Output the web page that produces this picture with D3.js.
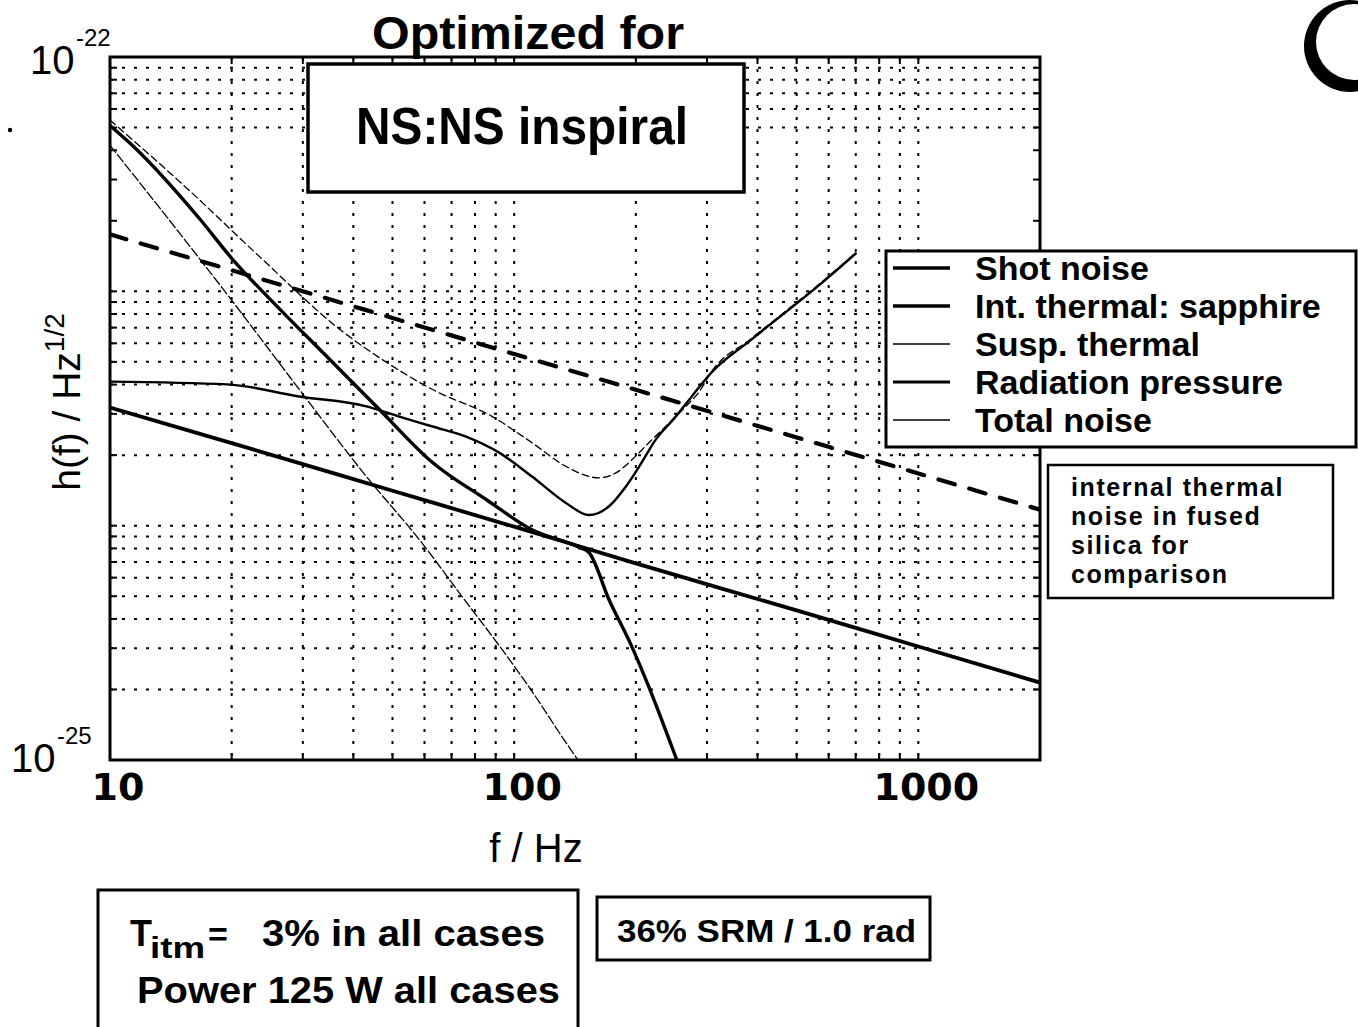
<!DOCTYPE html>
<html lang="en">
<head>
<meta charset="UTF-8">
<script src="https://d3js.org/d3.v7.min.js"></script>
<title>Optimized for NS:NS inspiral</title>
<style>
  body { margin: 0; background: #fff; }
  text { font-family: "Liberation Sans", Arial, sans-serif; fill: #000; }
</style>
</head>
<body>
<script>
// frequency in Hz, strain noise h(f) in 1/sqrt(Hz)
var fShot = [10, 19.5, 29.4, 43.1, 52, 62.8, 76, 91.8, 110.7, 134.3, 153, 171.7, 189, 204, 224, 251, 275, 308, 387, 589, 700];
var shotNoise = [4.12e-24, 4.01e-24, 3.56e-24, 3.23e-24, 2.92e-24, 2.65e-24, 2.40e-24, 2.05e-24, 1.62e-24, 1.25e-24, 1.11e-24, 1.21e-24, 1.47e-24, 1.79e-24, 2.33e-24, 2.92e-24, 3.56e-24, 4.51e-24, 6.24e-24, 1.12e-23, 1.45e-23];

var fIntThermal = [10, 20, 50, 100, 200, 500, 1000, 2000];
var intThermalSapphire = [3.19e-24, 2.25e-24, 1.41e-24, 9.9e-25, 6.9e-25, 4.35e-25, 3.05e-25, 2.14e-25];
var intThermalSilica = [1.75e-23, 1.23e-23, 7.7e-24, 5.4e-24, 3.8e-24, 2.38e-24, 1.67e-24, 1.17e-24];

var fSusp = [10, 20.1, 27.8, 43.1, 59.1, 74.4, 93.5, 111, 131.6, 145];
var suspThermal = [4.2e-23, 9.06e-24, 4.33e-24, 1.62e-24, 8.45e-25, 4.97e-25, 2.95e-25, 1.95e-25, 1.25e-25, 9.8e-26];

var fRad = [10, 11.4, 16.7, 20.1, 26.3, 34.4, 46.4, 62.8, 85.4, 110.7, 144.6, 153, 171.7, 195.6, 215.4, 231.9, 251, 262];
var radPressure = [5.1e-23, 4.17e-23, 2.03e-23, 1.37e-23, 8.4e-24, 5.27e-24, 3.13e-24, 1.86e-24, 1.29e-24, 9.6e-25, 8.1e-25, 7.7e-25, 4.83e-25, 3.04e-25, 2.05e-25, 1.48e-25, 1.03e-25, 8.5e-26];

var fTotal = [10, 15.8, 23.4, 37, 48.3, 62.8, 88.3, 110.7, 134.3, 162, 178.6, 195.6, 215.4, 237, 266, 286, 308, 387, 589, 700];
var totalNoise = [5.38e-23, 2.67e-23, 1.41e-23, 6.89e-24, 4.98e-24, 3.81e-24, 2.92e-24, 2.26e-24, 1.79e-24, 1.60e-24, 1.68e-24, 1.91e-24, 2.26e-24, 2.65e-24, 3.23e-24, 3.70e-24, 4.55e-24, 6.3e-24, 1.13e-23, 1.46e-23];

var legendNames = ["Shot noise", "Int. thermal: sapphire", "Susp. thermal", "Radiation pressure", "Total noise"];
var xTickLabels = [10, 100, 1000];
var yTickLabels = [1e-22, 1e-25];
var noteLines = ["internal thermal", "noise in fused", "silica for", "comparison"];

var width = 1358, height = 1027;
var pLeft = 110, pRight = 1040, pTop = 57, pBottom = 760;

var svg = d3.select("body").append("svg")
  .attr("width", width)
  .attr("height", height);

var x = d3.scaleLog().domain([10, 2000]).range([pLeft, pRight]);
var y = d3.scaleLog().domain([1e-25, 1e-22]).range([pBottom, pTop]);

// grid (the scan has no lines at 2,3,4 x 1e-23)
var xGrid = [];
[10, 100, 1000].forEach(function (d) {
  for (var k = 1; k <= 9; k++) {
    var v = d * k;
    if (v > 10 && v < 2000) xGrid.push(v);
  }
});
var yGrid = [];
[1e-25, 1e-24, 1e-23].forEach(function (d) {
  for (var k = 1; k <= 9; k++) {
    if (d === 1e-23 && k >= 2 && k <= 4) continue;
    if (k > 1 || d > 1e-25) yGrid.push(d * k);
  }
});

var grid = svg.append("g")
  .attr("stroke", "#000")
  .attr("stroke-width", 2)
  .attr("stroke-dasharray", "3,9");
grid.selectAll("line.v").data(xGrid).enter().append("line")
  .attr("class", "v")
  .attr("x1", function (d) { return x(d); }).attr("x2", function (d) { return x(d); })
  .attr("y1", pTop).attr("y2", pBottom);
grid.selectAll("line.h").data(yGrid).enter().append("line")
  .attr("class", "h")
  .attr("x1", pLeft).attr("x2", pRight)
  .attr("y1", function (d) { return y(d); }).attr("y2", function (d) { return y(d); });

// ticks on all four sides, inward
var allYTicks = [];
[1e-25, 1e-24, 1e-23].forEach(function (d) {
  for (var k = 1; k <= 9; k++) allYTicks.push(d * k);
});
var ticks = svg.append("g").attr("stroke", "#000").attr("stroke-width", 2);
ticks.selectAll("line.yl").data(allYTicks).enter().append("line")
  .attr("x1", pLeft).attr("x2", pLeft + 7)
  .attr("y1", function (d) { return y(d); }).attr("y2", function (d) { return y(d); });
ticks.selectAll("line.yr").data(allYTicks).enter().append("line")
  .attr("x1", pRight).attr("x2", pRight - 7)
  .attr("y1", function (d) { return y(d); }).attr("y2", function (d) { return y(d); });
ticks.selectAll("line.xb").data(xGrid).enter().append("line")
  .attr("y1", pBottom).attr("y2", pBottom - 7)
  .attr("x1", function (d) { return x(d); }).attr("x2", function (d) { return x(d); });
ticks.selectAll("line.xt").data(xGrid).enter().append("line")
  .attr("y1", pTop).attr("y2", pTop + 7)
  .attr("x1", function (d) { return x(d); }).attr("x2", function (d) { return x(d); });

// curves
svg.append("clipPath").attr("id", "plotclip")
  .append("rect").attr("x", pLeft).attr("y", pTop)
  .attr("width", pRight - pLeft).attr("height", pBottom - pTop);

var line = d3.line()
  .x(function (d) { return x(d[0]); })
  .y(function (d) { return y(d[1]); })
  .curve(d3.curveMonotoneX);

function zip(fs, hs) { return fs.map(function (f, i) { return [f, hs[i]]; }); }

var series = [
  { pts: zip(fIntThermal, intThermalSilica), w: 4.2, dash: "17,15" },
  { pts: zip(fSusp, suspThermal), w: 1.3, dash: "9,3" },
  { pts: zip(fIntThermal, intThermalSapphire), w: 3.8, dash: null },
  { pts: zip(fRad, radPressure), w: 3.4, dash: null },
  { pts: zip(fShot, shotNoise), w: 2.4, dash: null },
  { pts: zip(fTotal, totalNoise), w: 1.3, dash: "7,4" }
];

var curves = svg.append("g").attr("clip-path", "url(#plotclip)");
curves.selectAll("path").data(series).enter().append("path")
  .attr("fill", "none")
  .attr("stroke", "#000")
  .attr("stroke-width", function (d) { return d.w; })
  .attr("stroke-dasharray", function (d) { return d.dash; })
  .attr("stroke-linecap", "round")
  .attr("d", function (d) { return line(d.pts); });

// frame
svg.append("rect")
  .attr("x", pLeft).attr("y", pTop)
  .attr("width", pRight - pLeft).attr("height", pBottom - pTop)
  .attr("fill", "none").attr("stroke", "#000").attr("stroke-width", 3);

// x tick labels
svg.selectAll("text.xtick").data(xTickLabels).enter().append("text")
  .attr("class", "xtick")
  .attr("x", function (d) { return x(d) + 8; })
  .attr("y", 800)
  .attr("text-anchor", "middle")
  .style("font-family", "'DejaVu Sans', sans-serif")
  .style("font-weight", "bold")
  .style("font-size", "38px")
  .text(function (d) { return d; });

// y tick labels
var yLab = svg.selectAll("g.ytick").data(yTickLabels).enter().append("g")
  .attr("class", "ytick")
  .attr("transform", function (d) { return "translate(" + (d === 1e-22 ? 30 : 11) + "," + (y(d) + (d === 1e-22 ? 17 : 12)) + ")"; });
yLab.append("text")
  .style("font-size", "40px")
  .text("10");
yLab.append("text")
  .attr("x", 46).attr("y", -28)
  .style("font-size", "24px")
  .text(function (d) { return String(Math.round(Math.log10(d))); });

// axis titles
svg.append("text")
  .attr("x", 536).attr("y", 862)
  .attr("text-anchor", "middle")
  .style("font-size", "40px")
  .text("f / Hz");

var yt = svg.append("text")
  .attr("transform", "translate(80,402) rotate(-90)")
  .attr("text-anchor", "middle")
  .style("font-size", "39px");
yt.append("tspan").text("h(f) / Hz");
yt.append("tspan").attr("dy", -16).style("font-size", "28px").text("1/2");

// title
svg.append("text")
  .attr("x", 528).attr("y", 49)
  .attr("text-anchor", "middle")
  .style("font-size", "46px").style("font-weight", "bold")
  .attr("textLength", 312).attr("lengthAdjust", "spacingAndGlyphs")
  .text("Optimized for");

svg.append("rect")
  .attr("x", 308).attr("y", 64).attr("width", 436).attr("height", 128)
  .attr("fill", "#fff").attr("stroke", "#000").attr("stroke-width", 3.5);
svg.append("text")
  .attr("x", 522).attr("y", 144)
  .attr("text-anchor", "middle")
  .style("font-size", "52px").style("font-weight", "bold")
  .attr("textLength", 332).attr("lengthAdjust", "spacingAndGlyphs")
  .text("NS:NS inspiral");

// legend
var legendStyle = [3.4, 3.4, 1.5, 3, 1.5];
svg.append("rect")
  .attr("x", 886).attr("y", 251).attr("width", 470).attr("height", 196)
  .attr("fill", "#fff").attr("stroke", "#000").attr("stroke-width", 3);
var leg = svg.selectAll("g.leg").data(legendNames).enter().append("g")
  .attr("class", "leg")
  .attr("transform", function (d, i) { return "translate(0," + (268 + i * 38) + ")"; });
leg.append("line")
  .attr("x1", 893).attr("x2", 950).attr("y1", 0).attr("y2", 0)
  .attr("stroke", "#000")
  .attr("stroke-width", function (d, i) { return legendStyle[i]; });
leg.append("text")
  .attr("x", 975).attr("y", 12)
  .style("font-size", "34px").style("font-weight", "bold")
  .text(function (d) { return d; });

// note box
svg.append("rect")
  .attr("x", 1048).attr("y", 465).attr("width", 285).attr("height", 133)
  .attr("fill", "#fff").attr("stroke", "#000").attr("stroke-width", 2.5);
svg.selectAll("text.note").data(noteLines).enter().append("text")
  .attr("class", "note")
  .attr("x", 1071).attr("y", function (d, i) { return 496 + i * 29; })
  .style("font-size", "25px").style("font-weight", "bold")
  .style("letter-spacing", "1.6px")
  .text(function (d) { return d; });

// bottom boxes
svg.append("rect")
  .attr("x", 98).attr("y", 890).attr("width", 480).attr("height", 150)
  .attr("fill", "none").attr("stroke", "#000").attr("stroke-width", 3);
svg.append("text")
  .attr("x", 130).attr("y", 946)
  .style("font-size", "36px").style("font-weight", "bold")
  .text("T");
svg.append("text")
  .attr("x", 150).attr("y", 958)
  .style("font-size", "30px").style("font-weight", "bold")
  .attr("textLength", 55).attr("lengthAdjust", "spacingAndGlyphs")
  .text("itm");
svg.append("text")
  .attr("x", 208).attr("y", 946)
  .style("font-size", "34px").style("font-weight", "bold")
  .text("=");
svg.append("text")
  .attr("x", 262).attr("y", 946)
  .style("font-size", "36px").style("font-weight", "bold")
  .attr("textLength", 283).attr("lengthAdjust", "spacingAndGlyphs")
  .text("3% in all cases");
svg.append("text")
  .attr("x", 137).attr("y", 1003)
  .style("font-size", "36px").style("font-weight", "bold")
  .attr("textLength", 423).attr("lengthAdjust", "spacingAndGlyphs")
  .text("Power 125 W all cases");

svg.append("rect")
  .attr("x", 597).attr("y", 897).attr("width", 333).attr("height", 63)
  .attr("fill", "none").attr("stroke", "#000").attr("stroke-width", 3);
svg.append("text")
  .attr("x", 617).attr("y", 942)
  .style("font-size", "31px").style("font-weight", "bold")
  .attr("textLength", 299).attr("lengthAdjust", "spacingAndGlyphs")
  .text("36% SRM / 1.0 rad");

// scanned logo fragment, top right, and a stray speck
svg.append("circle")
  .attr("cx", 1350).attr("cy", 46).attr("r", 46)
  .attr("fill", "#000");
svg.append("circle")
  .attr("cx", 1354).attr("cy", 42).attr("r", 38)
  .attr("fill", "#fff");
svg.append("circle")
  .attr("cx", 10).attr("cy", 130).attr("r", 2.2)
  .attr("fill", "#000");
</script>
</body>
</html>
